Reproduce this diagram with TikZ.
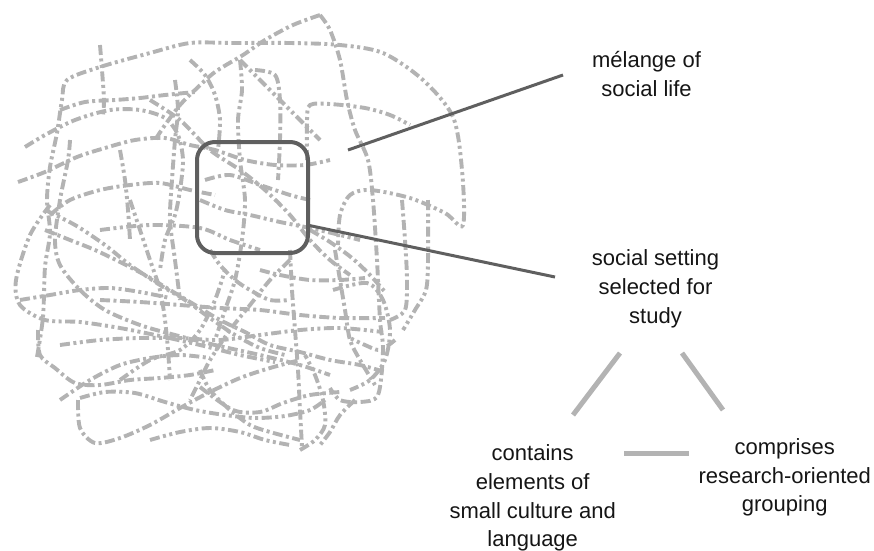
\documentclass[tikz,border=0pt]{standalone}
\usepackage{fontspec}
\setmainfont{Liberation Sans}
\definecolor{scrib}{HTML}{B3B3B3}
\definecolor{darkl}{HTML}{5F5F5F}
\definecolor{lightl}{HTML}{B3B3B3}
\definecolor{txt}{HTML}{151515}
\tikzset{
  scribA/.style={draw=scrib, line width=3.9pt, dash pattern=on 10pt off 3.5pt on 3pt off 3.5pt on 3pt off 3.5pt},
  scribB/.style={draw=scrib, line width=3.9pt, dash pattern=on 10pt off 3.5pt on 3pt off 3.5pt},
  darkline/.style={draw=darkl, line width=3pt},
  lightline/.style={draw=lightl, line width=5pt},
  lbl/.style={font=\fontsize{22}{28.7}\selectfont, text=txt, align=center, inner sep=0pt, anchor=base},
  selbox/.style={draw=darkl, line width=4pt, rounded corners=18pt, minimum width=111pt, minimum height=111pt, inner sep=0pt}
}
\begin{document}
\begin{tikzpicture}[x=1pt,y=-1pt]
\useasboundingbox (0,0) rectangle (874,550);
% scribble
\draw[scribA] plot[smooth] coordinates {(37,357) (43,317) (45,267) (50,233) (47,200) (50,167) (57,133) (62,100) (67,80) (100,67) (150,53) (190,43) (233,43) (290,43) (340,45) (383,53) (423,80) (453,117) (462,170) (463,225) (445,213) (410,198) (370,190) (350,195) (340,215) (338,245)};
\draw[scribB] plot[smooth] coordinates {(320,15) (330,30) (340,60) (347,100) (355,130) (368,160) (373,200) (377,260) (380,320) (383,350) (378,395) (360,402) (340,400) (330,388)};
\draw[scribB] plot[smooth] coordinates {(320,15) (293,25) (265,40) (243,55) (215,72) (195,90) (180,105) (165,125) (155,140)};
\draw[scribA] plot[smooth] coordinates {(100,45) (102,70) (104,100) (103,115)};
\draw[scribB] plot[smooth] coordinates {(18,182) (45,172) (77,157) (105,148) (135,140) (165,138) (190,145) (215,150) (245,160) (275,165) (305,165) (330,160)};
\draw[scribA] plot[smooth] coordinates {(25,147) (45,135) (75,120) (110,110) (140,110) (165,118) (178,135) (183,160) (180,190) (175,215) (165,240) (160,270)};
\draw[scribB] plot[smooth] coordinates {(70,140) (68,160) (60,200) (55,240) (60,265) (80,290) (105,310) (140,325) (175,335) (215,345) (260,355) (300,365) (330,375)};
\draw[scribA] plot[smooth] coordinates {(50,205) (30,235) (16,280) (20,305) (45,320) (80,322) (120,328) (160,336) (200,345) (240,355) (275,362)};
\draw[scribB] plot[smooth] coordinates {(78,400) (80,428) (95,443) (120,438) (150,425) (180,408) (210,392) (240,378) (270,368) (300,360)};
\draw[scribA] plot[smooth] coordinates {(80,398) (105,392) (135,393) (165,402) (195,410) (225,415) (255,418) (285,416) (310,410) (325,400)};
\draw[scribB] plot[smooth] coordinates {(38,330) (40,355) (55,368) (75,383) (100,385) (130,380) (160,378) (190,375) (215,370)};
\draw[scribA] plot[smooth] coordinates {(45,210) (75,225) (105,245) (130,265) (160,285) (185,300) (210,318) (235,335) (260,348) (285,355)};
\draw[scribB] plot[smooth] coordinates {(100,300) (140,302) (180,305) (220,308) (260,310) (300,315) (340,318) (385,318)};
\draw[scribA] plot[smooth] coordinates {(60,345) (100,340) (140,338) (180,338) (220,340) (260,335) (300,330) (340,328) (383,332)};
\draw[scribB] plot[smooth] coordinates {(290,250) (292,290) (295,330) (298,370) (300,410) (302,447)};
\draw[scribA] plot[smooth] coordinates {(300,450) (315,440) (325,425) (323,400) (315,375) (305,355)};
\draw[scribB] plot[smooth] coordinates {(335,250) (340,280) (345,310) (350,340) (360,360) (375,385)};
\draw[scribA] plot[smooth] coordinates {(428,200) (428,260) (426,290) (415,310) (403,330)};
\draw[scribB] plot[smooth] coordinates {(402,200) (405,240) (407,280) (405,310) (390,320)};
\draw[scribA] plot[smooth] coordinates {(307,160) (307,120) (310,105) (330,104) (365,108) (390,115) (410,125)};
\draw[scribB] plot[smooth] coordinates {(150,100) (180,120) (210,150) (240,170) (265,190) (290,215) (310,240) (330,260) (350,275)};
\draw[scribA] plot[smooth] coordinates {(200,200) (225,210) (250,215) (280,222) (310,228) (340,235) (360,240)};
\draw[scribB] plot[smooth] coordinates {(175,80) (178,110) (175,140) (172,180) (170,220) (175,260) (180,300)};
\draw[scribA] plot[smooth] coordinates {(240,60) (242,90) (238,120) (240,160) (245,200) (242,240) (235,280) (225,310) (215,340)};
\draw[scribB] plot[smooth] coordinates {(255,70) (275,75) (280,100) (280,140) (278,180)};
\draw[scribA] plot[smooth] coordinates {(240,60) (260,80) (280,100) (300,120) (320,140)};
\draw[scribB] plot[smooth] coordinates {(200,370) (210,390) (230,410) (250,425) (270,432) (300,440)};
\draw[scribA] plot[smooth] coordinates {(290,260) (270,280) (250,305) (230,330) (210,360) (200,380) (190,400)};
\draw[scribB] plot[smooth] coordinates {(50,215) (70,200) (100,190) (130,185) (160,183) (190,190) (215,195)};
\draw[scribA] plot[smooth] coordinates {(100,230) (150,225) (200,228) (230,240) (260,250)};
\draw[scribB] plot[smooth] coordinates {(205,180) (230,175) (260,185) (290,195) (310,200)};
\draw[scribA] plot[smooth] coordinates {(120,380) (150,360) (180,350) (200,330) (215,300) (225,270)};
\draw[scribB] plot[smooth] coordinates {(45,230) (70,240) (95,250) (120,262) (145,275) (170,290) (195,305) (220,320) (245,332) (270,345) (300,352) (330,360) (360,365) (385,372)};
\draw[scribA] plot[smooth] coordinates {(20,300) (50,295) (80,290) (110,288) (140,292) (170,298)};
\draw[scribB] plot[smooth] coordinates {(60,400) (90,380) (120,365) (150,358) (180,355) (210,358)};
\draw[scribA] plot[smooth] coordinates {(150,440) (180,432) (210,428) (240,432) (265,440) (290,445)};
\draw[scribB] plot[smooth] coordinates {(200,387) (233,410) (260,412) (283,403) (310,395) (340,392)};
\draw[scribA] plot[smooth] coordinates {(333,290) (367,283) (383,300) (390,330) (385,360) (370,380) (350,390)};
\draw[scribB] plot[smooth] coordinates {(310,230) (330,242) (352,258) (370,275) (385,292)};
\draw[scribA] plot[smooth] coordinates {(190,60) (205,75) (215,95) (220,120) (218,150)};
\draw[scribB] plot[smooth] coordinates {(60,110) (85,102) (115,100) (140,98) (165,95) (195,92)};
\draw[scribA] plot[smooth] coordinates {(130,200) (140,230) (150,260) (160,290) (165,320) (168,350) (170,380)};
\draw[scribB] plot[smooth] coordinates {(260,270) (280,275) (310,280) (340,280) (365,278)};
\draw[scribA] plot[smooth] coordinates {(120,150) (125,180) (128,210) (130,240)};
\draw[scribB] plot[smooth] coordinates {(355,400) (340,415) (330,432) (320,445)};
\draw[scribA] plot[smooth] coordinates {(395,340) (380,350) (365,345) (350,338)};
\draw[scribB] plot[smooth] coordinates {(210,250) (220,265) (235,280) (250,290) (270,300) (290,300)};
% selection box and callouts
\node[selbox] (box) at (252.5,197.5) {};
\coordinate (m1) at (348,150);
\coordinate (m2) at (563,75);
\coordinate (b1) at (307,225);
\coordinate (b2) at (555,277);
\draw[darkline] (m1) -- (m2);
\draw[darkline] (b1) -- (b2);
% labels (base anchor = baseline of last line)
\node[lbl] (melange) at (646.5,96) {mélange of\\social life};
\node[lbl] (setting) at (655.5,323) {social setting\\selected for\\study};
\node[lbl] (contains) at (532.7,546.7) {contains\\elements of\\small culture and\\language};
\node[lbl] (comprises) at (784.7,511.7) {comprises\\research-oriented\\grouping};
% triangle connectors
\coordinate (t1) at (620,353);
\coordinate (t2) at (573,415);
\coordinate (t3) at (682,353);
\coordinate (t4) at (723,410);
\coordinate (t5) at (624,453);
\coordinate (t6) at (689,453);
\draw[lightline] (t1) -- (t2);
\draw[lightline] (t3) -- (t4);
\draw[lightline] (t5) -- (t6);
\end{tikzpicture}
\end{document}
